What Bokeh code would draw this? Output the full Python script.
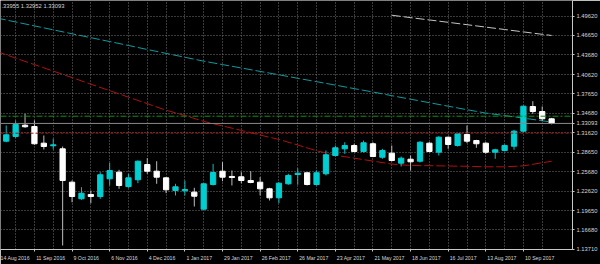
import pandas as pd
from bokeh.plotting import figure
from bokeh.models import Range1d, FixedTicker, PrintfTickFormatter, Span, Label, ColumnDataSource
from bokeh.embed import file_html
from bokeh.resources import INLINE

# ---------------- data (GBPUSD weekly) ----------------
first_week = "2016-08-21"
opens = [1.3036, 1.3108, 1.3282, 1.3262, 1.3005, 1.2965, 1.2918, 1.2404, 1.2148, 1.2214,
         1.2183, 1.2456, 1.2558, 1.2337, 1.2441, 1.2676, 1.2573, 1.2471, 1.2276, 1.2271,
         1.2250, 1.1988, 1.2368, 1.2573, 1.2492, 1.2487, 1.2430, 1.2404, 1.2302, 1.2163,
         1.2379, 1.2522, 1.2549, 1.2368, 1.2533, 1.2815, 1.2918, 1.2969, 1.2877, 1.2996,
         1.2789, 1.2851, 1.2697, 1.2758, 1.2727, 1.3005, 1.2866, 1.3097, 1.2969, 1.3139,
         1.3046, 1.3005, 1.2866, 1.2892, 1.2958, 1.3190, 1.3570, 1.3493, 1.3381]
highs = [1.3278, 1.3355, 1.3458, 1.3355, 1.3123, 1.3073, 1.2954, 1.2430, 1.2327, 1.2276,
         1.2558, 1.2703, 1.2595, 1.2533, 1.2738, 1.2774, 1.2727, 1.2481, 1.2379, 1.2430,
         1.2317, 1.2388, 1.2687, 1.2712, 1.2584, 1.2558, 1.2573, 1.2481, 1.2317, 1.2404,
         1.2533, 1.2619, 1.2553, 1.2584, 1.2892, 1.2969, 1.3020, 1.2996, 1.3046, 1.3020,
         1.2918, 1.2969, 1.2800, 1.2815, 1.3036, 1.3020, 1.3113, 1.3108, 1.3159, 1.3278,
         1.3057, 1.3020, 1.2918, 1.2985, 1.3211, 1.3586, 1.3652, 1.3570, 1.33955]
lows = [1.3020, 1.3088, 1.3242, 1.2980, 1.2908, 1.2908, 1.1428, 1.2095, 1.2132, 1.2080,
        1.2148, 1.2353, 1.2302, 1.2317, 1.2388, 1.2533, 1.2379, 1.2234, 1.2199, 1.2199,
        1.2029, 1.1978, 1.2353, 1.2419, 1.2353, 1.2388, 1.2388, 1.2199, 1.2122, 1.2080,
        1.2364, 1.2364, 1.2353, 1.2353, 1.2507, 1.2800, 1.2841, 1.2866, 1.2861, 1.2789,
        1.2764, 1.2723, 1.2646, 1.2584, 1.2707, 1.2866, 1.2815, 1.2918, 1.2954, 1.3005,
        1.2934, 1.2841, 1.2764, 1.2877, 1.2903, 1.3174, 1.3458, 1.3344, 1.32952]
closes = [1.3134, 1.3293, 1.3258, 1.2996, 1.2954, 1.2980, 1.2430, 1.2183, 1.2234, 1.2183,
          1.2518, 1.2584, 1.2353, 1.2471, 1.2727, 1.2573, 1.2481, 1.2287, 1.2333, 1.2291,
          1.2188, 1.2379, 1.2553, 1.2481, 1.2476, 1.2430, 1.2399, 1.2302, 1.2163, 1.2388,
          1.2507, 1.2542, 1.2368, 1.2549, 1.2826, 1.2934, 1.2969, 1.2877, 1.3011, 1.2800,
          1.2892, 1.2738, 1.2774, 1.2718, 1.3020, 1.2877, 1.3097, 1.2985, 1.3150, 1.3036,
          1.2996, 1.2866, 1.2903, 1.2969, 1.3190, 1.3575, 1.3493, 1.3381, 1.33093]

# moving averages, read every two weeks (+ current week)
ma_dates = list(pd.date_range("2016-08-14", "2017-09-24", freq="14D")) + [pd.Timestamp("2017-10-01")]
ma_teal = [1.4934, 1.4873, 1.4813, 1.4752, 1.4691, 1.4631, 1.4571, 1.4511, 1.4449, 1.4389,
           1.4329, 1.4269, 1.4216, 1.4164, 1.4111, 1.4059, 1.4005, 1.3953, 1.3900, 1.3846,
           1.3794, 1.3737, 1.3683, 1.3629, 1.3575, 1.3521, 1.3469, 1.3430, 1.3392, 1.3350,
           1.3330]
ma_red = [1.4418, 1.4316, 1.4216, 1.4116, 1.4016, 1.3914, 1.3814, 1.3714, 1.3614, 1.3513,
          1.3432, 1.3341, 1.3271, 1.3202, 1.3131, 1.3062, 1.2977, 1.2888, 1.2820, 1.2774,
          1.2729, 1.2683, 1.2661, 1.2658, 1.2653, 1.2649, 1.2641, 1.2641, 1.2655, 1.2704,
          1.2726]
grey_dates = list(pd.date_range("2017-06-04", "2017-09-24", freq="14D")) + [pd.Timestamp("2017-10-01")]
ma_grey = [1.4977, 1.4940, 1.4904, 1.4868, 1.4831, 1.4794, 1.4757, 1.4720, 1.4683, 1.4665]

level_green = 1.3421
level_red = 1.3159
bid_price = 1.33093
header_text = ".33955 1.32952 1.33093"

price_ticks = [1.13710, 1.16680, 1.19650, 1.22620, 1.25680, 1.28650, 1.31620,
               1.34680, 1.37650, 1.40620, 1.43680, 1.46650, 1.49620]
date_tick_dates = ["2016-08-14", "2016-09-11", "2016-10-09", "2016-11-06", "2016-12-04",
                   "2017-01-01", "2017-01-29", "2017-02-26", "2017-03-26", "2017-04-23",
                   "2017-05-21", "2017-06-18", "2017-07-16", "2017-08-13", "2017-09-10"]
date_tick_labels = ["14 Aug 2016", "11 Sep 2016", "9 Oct 2016", "6 Nov 2016", "4 Dec 2016",
                    "1 Jan 2017", "29 Jan 2017", "26 Feb 2017", "26 Mar 2017", "23 Apr 2017",
                    "21 May 2017", "18 Jun 2017", "16 Jul 2017", "13 Aug 2017", "10 Sep 2017"]

# ---------------- layout ----------------
WEEK = 7 * 24 * 3600 * 1000.0
PX_PER_WEEK = 9.42
def ms(d):
    return pd.Timestamp(d).value / 1e6

anchor = ms("2016-09-11")
x0 = anchor - 3.609 * WEEK
x1 = anchor + 57.219 * WEEK
y_top = 1.5204
y_bot = 1.13664

FONT = "Liberation Sans"
TXT = "#d6d6d6"
DATE_FS = 5.2

# approximate Arial/Liberation advance widths (em) to left-align date labels at their tick
_w = {" ": .278, "0": .556, "1": .556, "2": .556, "3": .556, "4": .556, "5": .556, "6": .556,
      "7": .556, "8": .556, "9": .556, "A": .667, "u": .556, "g": .556, "S": .667, "e": .556,
      "p": .556, "O": .778, "c": .5, "t": .278, "N": .722, "o": .556, "v": .5, "D": .722,
      "J": .5, "a": .556, "n": .556, "F": .611, "b": .556, "M": .833, "r": .333, "y": .5,
      "l": .222}
def text_px(s):
    return sum(_w.get(ch, .556) for ch in s) * DATE_FS

label_pos = [round(ms(d) + (1.5 + text_px(t) / 2) * WEEK / PX_PER_WEEK)
             for d, t in zip(date_tick_dates, date_tick_labels)]
tick_pos = [ms(d) for d in date_tick_dates]

dates = pd.date_range(first_week, periods=len(opens), freq="7D")
up = [c >= o for o, c in zip(opens, closes)]
src = ColumnDataSource(dict(
    x=[ms(d) for d in dates],
    top=[max(o, c) for o, c in zip(opens, closes)],
    bottom=[min(o, c) for o, c in zip(opens, closes)],
    high=highs, low=lows,
    fill=["#00CED1" if u else "#FFFFFF" for u in up],
    wick=["#14b8bb" if u else "#bdbdbd" for u in up],
))

p = figure(width=600, height=264, output_backend="svg", toolbar_location=None,
           x_range=Range1d(x0, x1), y_range=Range1d(y_bot, y_top),
           y_axis_location="right",
           min_border_left=0, min_border_top=0, min_border_right=27, min_border_bottom=15,
           background_fill_color="#000000", border_fill_color="#000000",
           outline_line_color=None)

# grid
p.ygrid.ticker = FixedTicker(ticks=price_ticks)
p.xgrid.ticker = FixedTicker(ticks=[ms(d) for d in pd.date_range("2016-08-14", "2017-10-01", freq="14D")])
for g in (p.xgrid, p.ygrid):
    g.grid_line_color = "#747474"
    g.grid_line_dash = "1 2"
    g.grid_line_width = 1

# y axis (right), plus the current bid price
ya = p.yaxis[0]
ya.ticker = FixedTicker(ticks=price_ticks + [bid_price])
ya.formatter = PrintfTickFormatter(format="%.5f")
ya.major_label_text_font = FONT
ya.major_label_text_font_size = "5.8px"
ya.major_label_text_color = TXT
ya.major_label_standoff = 2
ya.major_tick_out = 2
ya.major_tick_in = 0
ya.major_tick_line_color = "#c8c8c8"
ya.minor_tick_line_color = None
ya.axis_line_color = "#c8c8c8"

# x axis (below): labels start just right of their tick marks (drawn as minor ticks)
xa = p.xaxis[0]
xa.ticker = FixedTicker(ticks=label_pos, minor_ticks=tick_pos)
xa.major_label_overrides = {lp: t for lp, t in zip(label_pos, date_tick_labels)}
xa.major_label_text_font = FONT
xa.major_label_text_font_size = f"{DATE_FS}px"
xa.major_label_text_color = TXT
xa.major_label_standoff = 3
xa.major_tick_out = 0
xa.major_tick_in = 0
xa.major_tick_line_color = None
xa.minor_tick_out = 2
xa.minor_tick_in = 0
xa.minor_tick_line_color = "#c8c8c8"
xa.axis_line_color = "#c8c8c8"

# horizontal levels
p.add_layout(Span(location=level_green, dimension="width", line_color="#129112",
                  line_dash="6 2 2 2", line_width=1))
p.add_layout(Span(location=level_red, dimension="width", line_color="#a01515",
                  line_dash="3 2", line_width=1))
p.add_layout(Span(location=bid_price, dimension="width", line_color="#8a8a8a",
                  line_width=1))

# moving averages
p.line([ms(d) for d in ma_dates], ma_teal, line_color="#0f9a9e", line_dash="9 3", line_width=1)
p.line([ms(d) for d in ma_dates], ma_red, line_color="#b01010", line_dash="9 3", line_width=1)
p.line([ms(d) for d in grey_dates], ma_grey, line_color="#c4c4c4", line_dash="9 3", line_width=1)

# candles
p.segment(x0="x", y0="low", x1="x", y1="high", source=src, line_color="wick", line_width=1)
p.vbar(x="x", width=0.56 * WEEK, top="top", bottom="bottom", source=src,
       fill_color="fill", line_color="fill", line_width=1)

# header
px = (y_top - y_bot) / 249.0
p.add_layout(Label(x=x0, y=y_top - 5 * px, x_offset=1, text=header_text,
                   text_align="left", text_baseline="middle",
                   text_font=FONT, text_font_size="5.8px", text_color=TXT))

open("out.html", "w").write(file_html(p, INLINE))
